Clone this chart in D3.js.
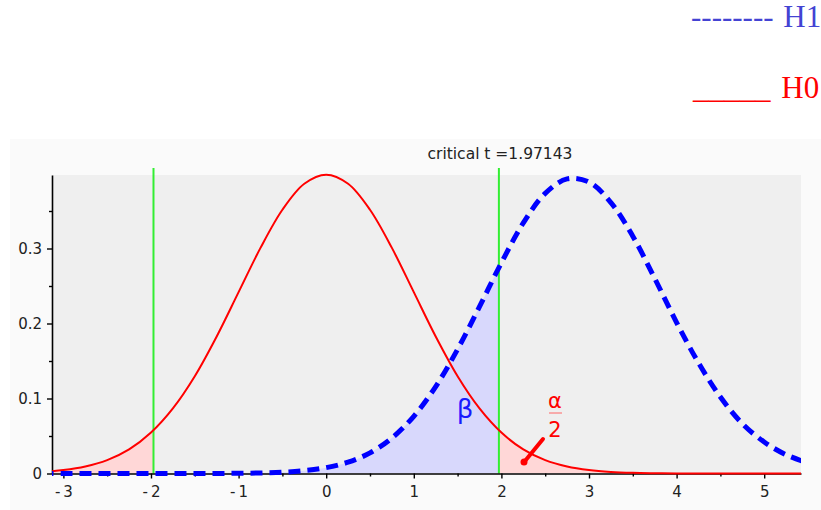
<!doctype html>
<html>
  <head>
    <meta charset="utf-8">
    <title>H0 vs H1 power chart</title>
    <script src="https://cdnjs.cloudflare.com/ajax/libs/d3/7.8.5/d3.min.js"></script>
    <style>
      body { margin: 0; background: #fff; }
    </style>
  </head>
  <body>
    <div id="chart"></div>
    <script>
      // values
      const tValues = [-3.25, -3, -2.75, -2.5, -2.25, -2, -1.75, -1.5, -1.25, -1, -0.75, -0.5, -0.25, 0,
                       0.25, 0.5, 0.75, 1, 1.25, 1.5, 1.75, 2, 2.25, 2.5, 2.75, 3, 3.25, 3.5, 3.75, 4,
                       4.25, 4.5, 4.75, 5, 5.25, 5.5];
      const h0Density = [0.0021, 0.0046, 0.0093, 0.0178, 0.0321, 0.0546, 0.0868, 0.1297, 0.1827, 0.2418, 0.3008, 0.3517, 0.3864, 0.3985,
                         0.3864, 0.3517, 0.3008, 0.2418, 0.1827, 0.1297, 0.0868, 0.0546, 0.0321, 0.0178, 0.0093, 0.0046, 0.0021, 0.0009, 0.0004, 0.0001,
                         0, 0, 0, 0, 0, 0];
      const h1Density = [0, 0, 0, 0, 0, 0, 0, 0.0001, 0.0001, 0.0003, 0.0007, 0.0017, 0.0038, 0.0078,
                         0.0151, 0.0275, 0.0473, 0.0763, 0.1159, 0.1656, 0.2224, 0.2810, 0.3341, 0.3735, 0.3928, 0.3885, 0.3613, 0.3164, 0.2602, 0.2013,
                         0.1475, 0.1020, 0.0665, 0.0420, 0.0250, 0.0140];
      const criticalT = 1.97143;
      const xTicks = [-3, -2, -1, 0, 1, 2, 3, 4, 5];
      const xMinor = [-2.5, -1.5, -0.5, 0.5, 1.5, 2.5, 3.5, 4.5];
      const yTicks = [0, 0.1, 0.2, 0.3];
      const yMinor = [0.05, 0.15, 0.25, 0.35];

      const h0 = tValues.map((t, i) => ({t: t, d: h0Density[i]}));
      const h1 = tValues.map((t, i) => ({t: t, d: h1Density[i]}));

      const sans = '"DejaVu Sans", sans-serif';
      const serif = '"Liberation Serif", "DejaVu Serif", serif';

      const svg = d3.select('#chart').append('svg')
        .attr('width', 821)
        .attr('height', 510);

      const pLeft = 52, pRight = 801, pTop = 175, pBottom = 473.5;

      const x = d3.scaleLinear().domain([-3.13, 5.42]).range([pLeft, pRight]);
      const y = d3.scaleLinear().domain([0, 0.398]).range([pBottom, pTop]);

      // panels
      svg.append('rect').attr('x', 10).attr('y', 139).attr('width', 811).attr('height', 371).attr('fill', '#fafafa');
      svg.append('rect').attr('x', pLeft).attr('y', pTop).attr('width', pRight - pLeft).attr('height', pBottom - pTop).attr('fill', '#efefef');

      const defs = svg.append('defs');
      defs.append('clipPath').attr('id', 'plot')
        .append('rect').attr('x', pLeft).attr('y', 150).attr('width', pRight - pLeft).attr('height', pBottom - 150 + 4);
      defs.append('clipPath').attr('id', 'leftTail')
        .append('rect').attr('x', pLeft).attr('y', pTop).attr('width', x(-criticalT) - pLeft).attr('height', pBottom - pTop);
      defs.append('clipPath').attr('id', 'rightTail')
        .append('rect').attr('x', x(criticalT)).attr('y', pTop).attr('width', pRight - x(criticalT)).attr('height', pBottom - pTop);
      defs.append('clipPath').attr('id', 'beta')
        .append('rect').attr('x', pLeft).attr('y', pTop).attr('width', x(criticalT) - pLeft).attr('height', pBottom - pTop);

      const area = d3.area().curve(d3.curveCatmullRom)
        .x(d => x(d.t)).y0(y(0)).y1(d => y(d.d));
      const line = d3.line().curve(d3.curveCatmullRom)
        .x(d => x(d.t)).y(d => y(d.d));

      const fills = svg.append('g').attr('clip-path', 'url(#plot)');

      fills.append('g').attr('clip-path', 'url(#beta)')
        .append('path').datum(h1).attr('d', area).attr('fill', '#d8d8fc');
      fills.append('g').attr('clip-path', 'url(#leftTail)')
        .append('path').datum(h0).attr('d', area).attr('fill', '#ffd7d7');
      fills.append('g').attr('clip-path', 'url(#rightTail)')
        .append('path').datum(h0).attr('d', area).attr('fill', '#ffd7d7');

      // critical lines
      svg.selectAll('.crit')
        .data([-criticalT, criticalT])
        .join('line')
        .attr('x1', d => x(d)).attr('x2', d => x(d))
        .attr('y1', 168).attr('y2', pBottom)
        .attr('stroke', '#33ee33')
        .attr('stroke-width', 2);

      // axes
      svg.append('g').attr('transform', `translate(${pLeft},0)`)
        .call(d3.axisLeft(y).tickValues(yTicks).tickSize(5).tickSizeOuter(0).tickPadding(5)
          .tickFormat(d => d === 0 ? '0' : d3.format('.1f')(d)));
      svg.append('g').attr('transform', `translate(${pLeft},0)`)
        .call(d3.axisLeft(y).tickValues(yMinor).tickSize(3).tickSizeOuter(0).tickFormat(''))
        .select('.domain').remove();

      svg.append('g').attr('transform', `translate(0,${pBottom})`)
        .call(d3.axisBottom(x).tickValues(xTicks).tickSize(5).tickSizeOuter(0).tickPadding(8)
          .tickFormat(d => d < 0 ? '-\u2009' + Math.abs(d) : String(d)));
      svg.append('g').attr('transform', `translate(0,${pBottom})`)
        .call(d3.axisBottom(x).tickValues(xMinor).tickSize(3).tickSizeOuter(0).tickFormat(''))
        .select('.domain').remove();

      svg.selectAll('.domain').attr('stroke', '#000').attr('stroke-width', 1.6);
      svg.selectAll('.tick line').attr('stroke', '#000').attr('stroke-width', 1.4);
      svg.selectAll('.tick text').style('font-size', '15px').attr('fill', '#222')
        .style('font-family', sans);

      // curves
      const curves = svg.append('g').attr('clip-path', 'url(#plot)');
      curves.append('path').datum(h0).attr('d', line)
        .attr('fill', 'none').attr('stroke', 'red').attr('stroke-width', 2);
      curves.append('path').datum(h1).attr('d', line)
        .attr('fill', 'none').attr('stroke', 'blue').attr('stroke-width', 5)
        .attr('stroke-dasharray', '12,7');

      // labels
      svg.append('text').attr('x', 500).attr('y', 159).attr('text-anchor', 'middle')
        .style('font-family', sans).style('font-size', '15.5px').attr('fill', '#222')
        .text('critical t =1.97143');

      svg.append('text').attr('x', 465).attr('y', 418).attr('text-anchor', 'middle')
        .style('font-family', sans).style('font-size', '26px').attr('fill', '#1a1aff').text('β');

      svg.append('text').attr('x', 555).attr('y', 408).attr('text-anchor', 'middle')
        .style('font-family', sans).style('font-size', '21px').attr('fill', 'red').text('α');
      svg.append('line').attr('x1', 549).attr('x2', 562).attr('y1', 413).attr('y2', 413)
        .attr('stroke', '#ff6666').attr('stroke-width', 1);
      svg.append('text').attr('x', 555).attr('y', 437).attr('text-anchor', 'middle')
        .style('font-family', sans).style('font-size', '21px').attr('fill', 'red').text('2');
      svg.append('line').attr('x1', 543).attr('y1', 439).attr('x2', 525).attr('y2', 461)
        .attr('stroke', 'red').attr('stroke-width', 4).attr('stroke-linecap', 'round');
      svg.append('circle').attr('cx', 524).attr('cy', 462).attr('r', 3.5).attr('fill', 'red');

      // legend
      const leg1 = svg.append('text').attr('x', 691).attr('y', 27)
        .style('font-family', serif).style('font-size', '31px')
        .attr('fill', '#4343d3');
      leg1.append('tspan').text('--------');
      leg1.append('tspan').attr('dx', 2).text(' H1');

      const leg0 = svg.append('text').attr('x', 693).attr('y', 98)
        .style('font-family', serif).style('font-size', '31px')
        .attr('fill', 'red');
      leg0.append('tspan').text('_____');
      leg0.append('tspan').attr('dx', 3).text(' H0');
    </script>
  </body>
</html>
